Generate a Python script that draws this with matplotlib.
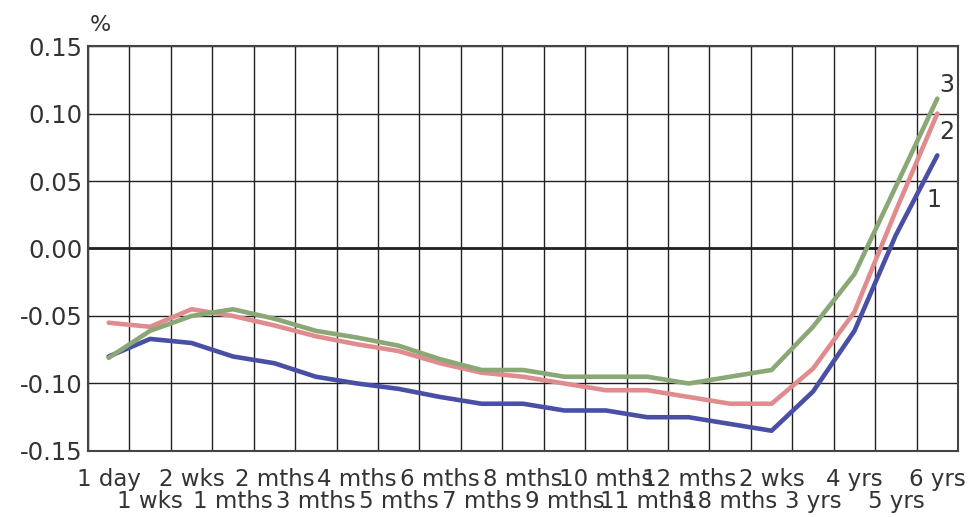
import matplotlib
matplotlib.use("Agg")
from matplotlib import pyplot as plt
import numpy as np

terms = ['1 day', '1 wks', '2 wks', '1 mths', '2 mths', '3 mths', '4 mths', '5 mths',
         '6 mths', '7 mths', '8 mths', '9 mths', '10 mths', '11 mths', '12 mths',
         '18 mths', '2 wks', '3 yrs', '4 yrs', '5 yrs', '6 yrs']

series_1 = [-0.080, -0.067, -0.070, -0.080, -0.085, -0.095, -0.100, -0.104, -0.110, -0.115,
            -0.115, -0.120, -0.120, -0.125, -0.125, -0.130, -0.135, -0.106, -0.061, 0.010, 0.069]
series_2 = [-0.055, -0.058, -0.045, -0.050, -0.057, -0.065, -0.071, -0.076, -0.085, -0.092,
            -0.095, -0.100, -0.105, -0.105, -0.110, -0.115, -0.115, -0.089, -0.047, 0.028, 0.100]
series_3 = [-0.081, -0.061, -0.050, -0.045, -0.052, -0.061, -0.066, -0.072, -0.082, -0.090,
            -0.090, -0.095, -0.095, -0.095, -0.100, -0.095, -0.090, -0.058, -0.019, 0.046, 0.111]

line_names = ['1', '2', '3']
colors = ['#4a4fa6', '#e08c8e', '#8aa876']
txt = '#333333'

plt.rcParams['font.family'] = ['DejaVu Sans']
fig = plt.figure(figsize=(9.74, 5.17), dpi=100)
ax = fig.add_axes([0.0903, 0.1277, 0.8933, 0.7833])

x = np.arange(len(terms)) + 0.5
for vals, c in zip([series_1, series_2, series_3], colors):
    ax.plot(x, vals, color=c, lw=3.3, solid_capstyle='round', zorder=3)

# end labels
ax.text(20.72, 0.121, line_names[2], fontsize=17, color=txt, ha='center', va='center')
ax.text(20.72, 0.086, line_names[1], fontsize=17, color=txt, ha='center', va='center')
ax.text(20.42, 0.036, line_names[0], fontsize=17, color=txt, ha='center', va='center')

ax.set_xlim(0, len(terms))
ax.set_ylim(-0.15, 0.15)
ax.set_yticks(np.arange(-0.15, 0.151, 0.05))
ax.set_yticklabels(['%.2f' % v for v in np.arange(-0.15, 0.151, 0.05)])

ax.set_xticks(x)
ax.set_xticklabels([t if i % 2 == 0 else '\n' + t for i, t in enumerate(terms)])
ax.set_xticks(np.arange(0, len(terms) + 1), minor=True)
ax.tick_params(axis='x', which='both', length=0, pad=12, labelsize=16.5, labelcolor=txt)
ax.tick_params(axis='y', length=0, pad=4, labelsize=17.5, labelcolor=txt)
for lbl in ax.get_xticklabels():
    lbl.set_linespacing(0.95)

ax.grid(True, which='minor', axis='x', color='#222222', lw=1.0)
ax.grid(True, which='major', axis='y', color='#222222', lw=1.0)
ax.axhline(0, color='#222222', lw=2, zorder=2)
for s in ax.spines.values():
    s.set_color('#444444')
    s.set_linewidth(1.5)

fig.text(0.092, 0.952, '%', fontsize=16, color=txt, ha='left', va='center')

fig.savefig('out.png', dpi=100)
